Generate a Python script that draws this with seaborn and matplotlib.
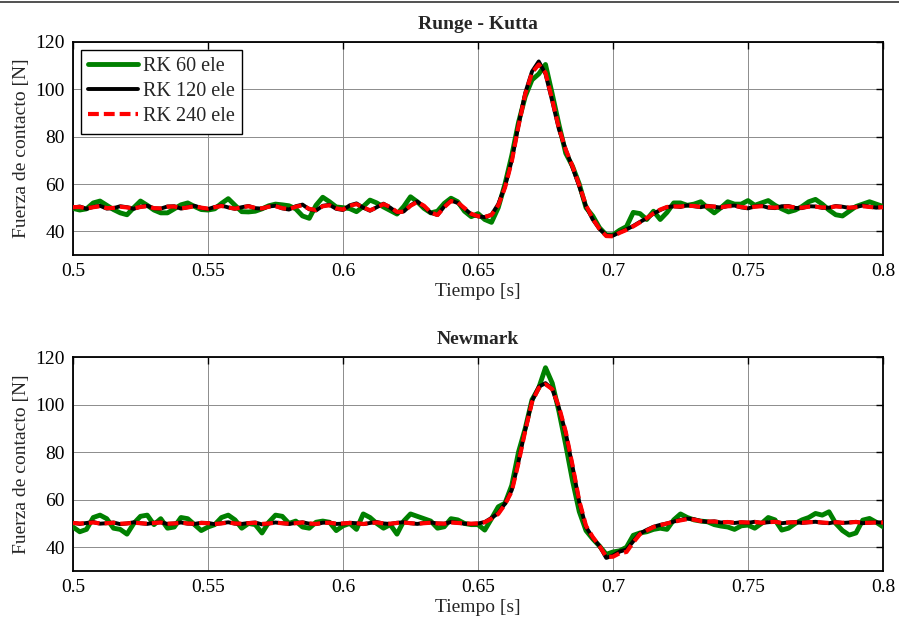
import numpy as np
import pandas as pd
import matplotlib
matplotlib.use("Agg")
import matplotlib.pyplot as plt
import seaborn as sns
from matplotlib.ticker import FixedLocator, FixedFormatter
from matplotlib.lines import Line2D

# ---------------- data (values sampled every 0.0025 s from 0.5 s to 0.8 s) ----------------
T_START, T_END = 0.5, 0.8

rk_60 = [
    49.7, 49.0, 49.5, 52.0, 52.8, 51.0, 49.2, 47.8, 47.0, 50.0,
    52.8, 51.0, 49.0, 47.8, 47.8, 49.5, 51.2, 52.0, 50.5, 49.2,
    49.0, 49.5, 51.8, 53.8, 51.0, 48.3, 48.2, 48.5, 49.5, 50.8,
    51.5, 51.2, 50.8, 49.5, 46.5, 45.5, 51.0, 54.4, 52.5, 50.3,
    50.0, 49.6, 48.3, 50.5, 53.2, 52.0, 50.3, 48.8, 47.3, 50.5,
    54.6, 52.5, 49.7, 47.8, 48.5, 51.8, 54.0, 52.5, 48.5, 46.2,
    47.5, 45.0, 43.8, 50.0, 60.0, 72.0, 86.0, 97.0, 104.0, 106.5,
    110.5, 98.0, 85.0, 73.0, 67.5, 60.0, 50.0, 46.5, 41.5, 38.5,
    38.5, 40.5, 42.0, 48.0, 47.5, 45.0, 48.5, 45.0, 48.0, 52.0,
    52.0, 51.0, 51.5, 52.5, 50.0, 47.8, 50.0, 52.5, 51.5, 51.5,
    53.0, 51.0, 52.0, 53.0, 51.0, 49.5, 48.2, 49.0, 50.5, 52.5,
    53.5, 51.5, 49.0, 47.0, 46.5, 48.5, 50.5, 51.5, 52.5, 51.5,
    50.5,
]
rk_120 = [
    50.0, 50.5, 49.5, 50.3, 50.8, 49.6, 49.8, 50.6, 50.2, 49.5,
    50.4, 50.8, 49.7, 49.6, 50.5, 50.6, 49.6, 50.2, 50.8, 49.9,
    49.4, 50.3, 50.9, 50.1, 49.5, 50.2, 50.7, 49.8, 49.6, 50.5,
    50.8, 49.7, 49.2, 50.6, 51.3, 49.3, 48.8, 50.8, 51.2, 49.5,
    49.0, 51.0, 51.8, 50.0, 48.7, 50.2, 51.7, 50.0, 47.9, 48.4,
    51.0, 52.6, 50.5, 47.8, 46.9, 50.5, 53.0, 52.0, 49.6, 47.2,
    46.3, 46.0, 47.0, 51.5, 59.0, 70.0, 85.0, 98.5, 107.5, 111.8,
    106.5, 95.0, 83.0, 74.5, 67.0, 59.0, 50.5, 45.0, 41.0, 38.3,
    38.2, 39.6, 40.8, 42.3, 44.0, 45.5, 47.5, 49.0, 50.2, 50.6,
    50.3, 51.0, 50.6, 50.2, 50.8, 50.4, 50.0, 50.7, 50.9, 50.1,
    49.7, 50.5, 50.8, 50.0, 49.8, 50.6, 50.7, 49.9, 49.8, 50.6,
    50.5, 49.9, 50.0, 50.7, 50.4, 49.9, 50.3, 50.9, 50.4, 50.0,
    50.3,
]
rk_240 = [
    50.2, 50.3, 49.7, 50.2, 50.6, 49.8, 49.9, 50.4, 50.1, 49.7,
    50.3, 50.6, 49.8, 49.7, 50.4, 50.5, 49.7, 50.1, 50.6, 50.0,
    49.6, 50.2, 50.7, 50.1, 49.6, 50.1, 50.6, 49.9, 49.7, 50.4,
    50.6, 49.8, 49.4, 50.4, 51.0, 49.5, 49.0, 50.6, 51.0, 49.7,
    49.2, 50.8, 51.5, 50.1, 48.9, 50.0, 51.5, 50.3, 48.2, 48.3,
    50.8, 52.4, 50.8, 48.0, 46.9, 50.2, 52.8, 52.2, 49.8, 47.4,
    46.4, 46.1, 46.9, 51.0, 58.5, 69.5, 84.5, 98.0, 107.0, 110.5,
    107.0, 95.5, 83.5, 74.5, 67.5, 59.5, 51.0, 45.3, 41.0, 38.0,
    37.9, 39.4, 40.6, 42.1, 43.8, 45.6, 47.6, 49.2, 50.3, 50.5,
    50.5, 50.8, 50.7, 50.3, 50.6, 50.5, 50.2, 50.6, 50.7, 50.3,
    49.9, 50.4, 50.6, 50.2, 50.0, 50.4, 50.5, 50.1, 50.0, 50.4,
    50.4, 50.1, 50.1, 50.5, 50.3, 50.0, 50.2, 50.6, 50.3, 50.1,
    50.2,
]

nm_60 = [
    48.5, 46.5, 47.5, 52.5, 53.5, 52.0, 48.0, 47.5, 45.5, 50.0,
    53.0, 53.5, 49.5, 52.0, 48.0, 48.5, 52.5, 52.0, 49.5, 47.0,
    48.5, 49.5, 52.5, 53.5, 51.5, 48.0, 50.0, 49.5, 46.0, 50.5,
    53.5, 53.0, 50.0, 51.0, 48.5, 48.0, 50.5, 51.0, 50.5, 47.0,
    49.0, 50.0, 47.5, 54.0, 52.5, 50.0, 48.0, 49.5, 45.5, 51.0,
    54.0, 53.0, 52.0, 51.0, 48.0, 48.6, 52.0, 51.5, 50.0, 49.5,
    49.5, 47.2, 52.0, 57.0, 58.5, 66.0, 80.0, 90.0, 102.0, 107.0,
    115.5, 109.0, 97.0, 83.0, 68.0, 55.0, 47.0, 43.5, 40.5, 37.0,
    38.0, 38.5, 40.0, 45.0, 46.0, 46.5, 47.5, 48.0, 47.5, 51.5,
    54.0, 52.5, 51.5, 51.0, 50.7, 49.5, 48.9, 48.5, 47.5, 49.0,
    49.3, 48.0, 50.0, 52.5, 51.5, 47.2, 48.0, 50.0, 51.5, 52.5,
    54.2, 53.5, 54.9, 50.0, 47.0, 45.1, 46.0, 51.4, 52.1, 50.5,
    48.6,
]
nm_120 = [
    50.3, 49.8, 50.2, 50.6, 49.9, 50.1, 50.4, 49.7, 50.0, 50.5,
    50.1, 49.8, 50.3, 50.5, 49.8, 50.0, 50.4, 49.9, 49.8, 50.3,
    50.2, 49.7, 50.1, 50.5, 49.9, 49.8, 50.2, 50.4, 49.6, 50.0,
    50.4, 50.1, 49.8, 50.2, 50.5, 49.9, 49.7, 50.3, 50.4, 49.8,
    49.9, 50.3, 50.1, 49.7, 50.2, 50.6, 50.0, 49.8, 50.3, 50.5,
    50.1, 49.8, 50.2, 50.4, 50.0, 49.9, 50.6, 50.3, 49.9, 49.8,
    50.0, 50.6, 52.3, 54.3, 58.4, 64.0, 76.0, 89.5, 101.5, 107.5,
    109.0, 106.5, 98.5, 88.0, 74.0, 59.0, 48.5, 44.0, 40.5, 35.5,
    36.5, 38.2, 39.0, 42.5, 45.8, 47.3, 48.6, 49.4, 50.0, 50.8,
    51.5, 52.0, 51.8, 51.0, 50.7, 50.9, 50.4, 50.6, 50.2, 50.5,
    50.3, 50.7, 50.2, 50.5, 50.8, 50.1, 50.4, 50.6, 50.2, 50.5,
    50.7, 50.3, 50.1, 50.6, 50.2, 50.4, 50.7, 50.1, 50.3, 50.5,
    50.4,
]
nm_240 = [
    50.2, 50.0, 50.1, 50.4, 50.0, 50.1, 50.3, 49.9, 50.0, 50.3,
    50.1, 49.9, 50.2, 50.4, 49.9, 50.0, 50.3, 50.0, 49.9, 50.2,
    50.1, 49.8, 50.0, 50.4, 50.0, 49.9, 50.1, 50.3, 49.8, 50.0,
    50.3, 50.1, 49.9, 50.1, 50.4, 50.0, 49.8, 50.2, 50.3, 49.9,
    50.0, 50.2, 50.1, 49.8, 50.1, 50.4, 50.0, 49.9, 50.2, 50.4,
    50.1, 49.9, 50.1, 50.3, 50.0, 49.9, 50.4, 50.2, 50.0, 49.9,
    50.0, 50.5, 52.0, 54.0, 58.0, 63.5, 75.5, 89.0, 101.0, 107.0,
    108.5, 106.5, 99.0, 88.5, 74.5, 59.5, 49.0, 44.3, 40.5, 36.0,
    36.0, 37.5, 38.0, 42.0, 45.5, 47.0, 48.5, 49.3, 50.0, 50.7,
    51.3, 51.8, 51.6, 51.0, 50.8, 50.8, 50.5, 50.6, 50.3, 50.5,
    50.4, 50.6, 50.3, 50.5, 50.7, 50.2, 50.4, 50.5, 50.3, 50.5,
    50.6, 50.4, 50.2, 50.5, 50.3, 50.4, 50.6, 50.2, 50.3, 50.4,
    50.4,
]

series_labels = ["RK 60 ele", "RK 120 ele", "RK 240 ele"]
panel_titles = ["Runge - Kutta", "Newmark"]
x_label = "Tiempo [s]"
y_label = "Fuerza de contacto [N]"
x_ticks = [0.5, 0.55, 0.6, 0.65, 0.7, 0.75, 0.8]
x_tick_labels = ["0.5", "0.55", "0.6", "0.65", "0.7", "0.75", "0.8"]
y_ticks = [40, 60, 80, 100, 120]
y_tick_labels = ["40", "60", "80", "100", "120"]

# ---------------- style ----------------
sns.set_style("white")
plt.rcParams["font.family"] = ["Liberation Serif", "DejaVu Serif"]

colors = ["#008000", "#000000", "#ff0000"]
widths = [3.5, 2.8, 3.0]
styles = ["-", "-", (0, (2.6, 1.2))]

fig = plt.figure(figsize=(8.99, 6.21), dpi=100)
W, H = 899.0, 621.0
ax_top = fig.add_axes([73 / W, 1 - 255 / H, 810 / W, 213 / H])
ax_bot = fig.add_axes([73 / W, 1 - 571 / H, 810 / W, 214 / H])

panels = [
    (ax_top, [rk_60, rk_120, rk_240], True),
    (ax_bot, [nm_60, nm_120, nm_240], False),
]

for (ax, data_list, show_legend), title in zip(panels, panel_titles):
    frames = []
    for lab, vals in zip(series_labels, data_list):
        t = np.linspace(T_START, T_END, len(vals))
        frames.append(pd.DataFrame({"t": t, "F": vals, "serie": lab}))
    df = pd.concat(frames, ignore_index=True)

    for k, lab in enumerate(series_labels):
        sub = df[df["serie"] == lab]
        sns.lineplot(data=sub, x="t", y="F", ax=ax, color=colors[k],
                     linewidth=widths[k], linestyle=styles[k],
                     errorbar=None, sort=True,
                     label=lab if show_legend else None,
                     legend=show_legend, zorder=3 + k)

    ax.set_xlim(T_START, T_END)
    ax.set_ylim(30, 120)
    ax.xaxis.set_major_locator(FixedLocator(x_ticks))
    ax.xaxis.set_major_formatter(FixedFormatter(x_tick_labels))
    ax.yaxis.set_major_locator(FixedLocator(y_ticks))
    ax.yaxis.set_major_formatter(FixedFormatter(y_tick_labels))
    ax.tick_params(direction="in", top=True, right=True, length=5, width=1,
                   labelsize=14, pad=6, colors="black")
    ax.grid(True, color="#8c8c8c", linewidth=0.7, linestyle="-", zorder=0)
    ax.set_axisbelow(True)
    for sp in ax.spines.values():
        sp.set_color("black")
        sp.set_linewidth(1.3)
        sp.set_visible(True)
    ax.set_title(title, fontsize=14, fontweight="bold", pad=9.5)
    ax.set_xlabel(x_label, fontsize=14, labelpad=2)
    ax.set_ylabel(y_label, fontsize=14, labelpad=4)

    if show_legend:
        leg = ax.legend(loc="upper left", fontsize=14.5, frameon=True,
                        fancybox=False, edgecolor="black", framealpha=1,
                        handlelength=2.5, handletextpad=0.25,
                        labelspacing=0.3, borderpad=0.35, borderaxespad=0.4)
        leg.get_frame().set_linewidth(1.0)
        leg.set_zorder(10)
    else:
        if ax.get_legend() is not None:
            ax.get_legend().remove()

fig.add_artist(Line2D([0, 1], [1 - 1.5 / H, 1 - 1.5 / H],
                      transform=fig.transFigure, color="#333333", lw=1.2))

fig.savefig("out.png", dpi=100)
